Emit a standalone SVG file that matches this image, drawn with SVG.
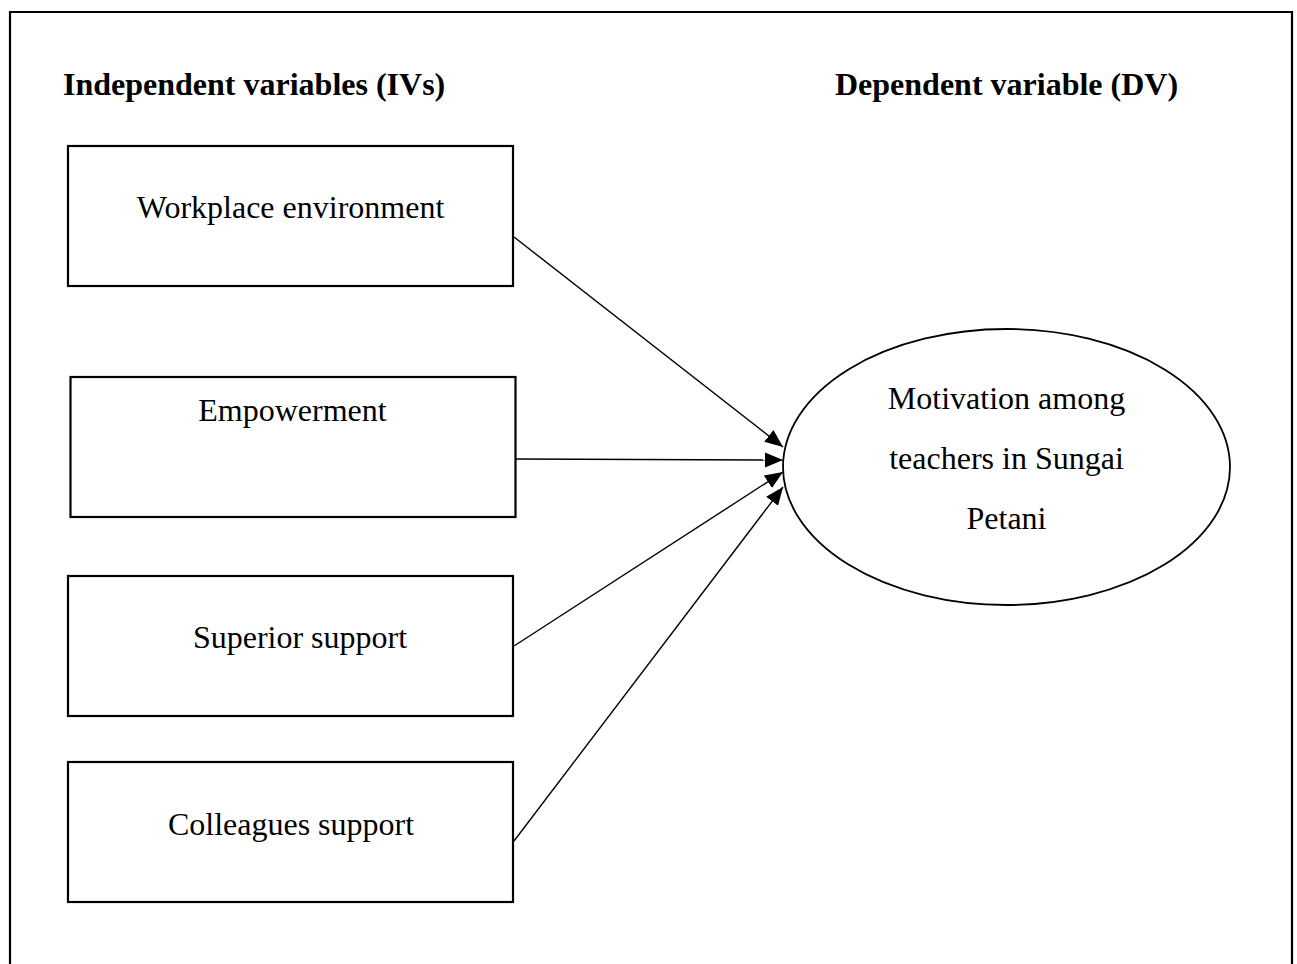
<svg xmlns="http://www.w3.org/2000/svg" width="1297" height="964" viewBox="0 0 1297 964">
<defs>
<style>
.box{fill:#fff;stroke:#000;stroke-width:2.2}
.ell{fill:#fff;stroke:#000;stroke-width:1.8}
.lbl{font-family:"Liberation Serif","Times New Roman",serif;font-size:32px;fill:#000;text-anchor:middle}
.hdr{font-family:"Liberation Serif","Times New Roman",serif;font-size:32px;font-weight:bold;fill:#000}
.con{stroke:#000;stroke-width:1.4;fill:none;marker-end:url(#ah)}
</style>
<marker id="ah" markerUnits="userSpaceOnUse" markerWidth="20" markerHeight="16" refX="18" refY="7.5" orient="auto">
<path d="M0,0 L18,7.5 L0,15 z" fill="#000"/>
</marker>
</defs>
<rect width="1297" height="964" fill="#fff"/>
<path d="M10,964 V12 H1292 V964" fill="none" stroke="#000" stroke-width="2.2"/>
<text class="hdr" x="63" y="95">Independent variables (IVs)</text>
<text class="hdr" x="835" y="95">Dependent variable (DV)</text>
<g id="connectors">
<line class="con" x1="514" y1="237" x2="783" y2="447"/>
<line class="con" x1="516" y1="459" x2="783" y2="460"/>
<line class="con" x1="514" y1="646" x2="783" y2="472"/>
<line class="con" x1="514" y1="841" x2="783" y2="487"/>
</g>
<g id="workplace">
<rect class="box" x="68" y="146" width="445" height="140"/>
<text class="lbl" x="290.5" y="218">Workplace environment</text>
</g>
<g id="empowerment">
<rect class="box" x="70.5" y="377" width="445" height="140"/>
<text class="lbl" x="292.5" y="421">Empowerment</text>
</g>
<g id="superior">
<rect class="box" x="68" y="576" width="445" height="140"/>
<text class="lbl" x="300" y="648">Superior support</text>
</g>
<g id="colleagues">
<rect class="box" x="68" y="762" width="445" height="140"/>
<text class="lbl" x="291" y="835">Colleagues support</text>
</g>
<g id="motivation">
<ellipse class="ell" cx="1006.5" cy="467" rx="223.5" ry="138"/>
<text class="lbl" x="1006.5" y="409">Motivation among</text>
<text class="lbl" x="1006.5" y="469">teachers in Sungai</text>
<text class="lbl" x="1006.5" y="529">Petani</text>
</g>
</svg>
